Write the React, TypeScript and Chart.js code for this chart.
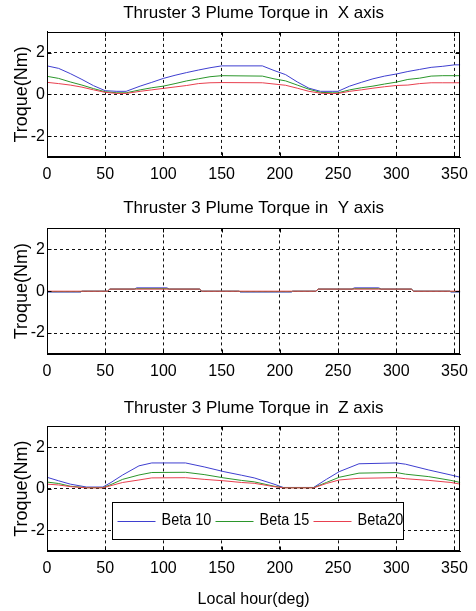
import React, { useEffect, useRef } from "react";
import { Chart, registerables } from "chart.js";

Chart.register(...registerables);

// ---------- data ----------
const xTicks = [0, 50, 100, 150, 200, 250, 300, 350];
const yTicks = [-2, 0, 2];
const seriesNames = ["Beta 10", "Beta 15", "Beta20"];
const seriesColors = ["#3f3fd0", "#2b962b", "#e8404f"];

const hourX = [0, 10, 20, 30, 40, 50, 60, 68, 80, 90, 100, 110, 120, 130, 140, 150, 185, 195, 205, 215, 225, 235, 245, 250, 260, 270, 280, 290, 300, 310, 320, 330, 340, 350, 355];
const torqueX10 = [1.37, 1.25, 1.0, 0.72, 0.42, 0.18, 0.15, 0.15, 0.4, 0.58, 0.77, 0.92, 1.05, 1.17, 1.28, 1.37, 1.37, 1.15, 0.95, 0.6, 0.3, 0.15, 0.15, 0.15, 0.4, 0.58, 0.75, 0.88, 0.98, 1.1, 1.2, 1.3, 1.35, 1.42, 1.42];
const torqueX15 = [0.87, 0.77, 0.6, 0.45, 0.28, 0.13, 0.08, 0.08, 0.22, 0.32, 0.4, 0.52, 0.65, 0.75, 0.85, 0.9, 0.88, 0.75, 0.65, 0.45, 0.25, 0.1, 0.08, 0.08, 0.22, 0.32, 0.4, 0.5, 0.59, 0.72, 0.78, 0.88, 0.9, 0.9, 0.9];
const torqueX20 = [0.58, 0.52, 0.45, 0.35, 0.22, 0.1, 0.05, 0.05, 0.15, 0.22, 0.29, 0.36, 0.43, 0.52, 0.56, 0.57, 0.56, 0.5, 0.44, 0.3, 0.15, 0.06, 0.04, 0.05, 0.15, 0.22, 0.3, 0.37, 0.43, 0.45, 0.52, 0.56, 0.56, 0.56, 0.56];

const hourY = [0, 29, 30, 52, 54, 75, 77, 103, 105, 131, 133, 165, 166, 210, 211, 231, 233, 262, 264, 285, 287, 313, 315, 346, 347, 355];
const torqueY10 = [-0.04, -0.04, 0, 0, 0.1, 0.1, 0.16, 0.16, 0.1, 0.1, 0, 0, -0.04, -0.04, 0, 0, 0.1, 0.1, 0.16, 0.16, 0.1, 0.1, 0, 0, -0.04, -0.04];
const torqueY15 = [-0.02, -0.02, 0, 0, 0.1, 0.1, 0.12, 0.12, 0.1, 0.1, 0, 0, -0.02, -0.02, 0, 0, 0.1, 0.1, 0.12, 0.12, 0.1, 0.1, 0, 0, -0.02, -0.02];
const torqueY20 = [0, 0, 0, 0, 0.1, 0.1, 0.1, 0.1, 0.1, 0.1, 0, 0, 0, 0, 0, 0, 0.1, 0.1, 0.1, 0.1, 0.1, 0.1, 0, 0, 0, 0];

const hourZ = [0, 10, 20, 34, 48, 55, 65, 79, 90, 119, 135, 152, 167, 178, 195, 203, 229, 240, 251, 268, 300, 308, 328, 347, 355];
const torqueZ10 = [0.55, 0.38, 0.22, 0.08, 0.08, 0.3, 0.66, 1.1, 1.24, 1.24, 1.05, 0.82, 0.65, 0.52, 0.22, 0.06, 0.06, 0.45, 0.82, 1.2, 1.24, 1.18, 0.9, 0.66, 0.55];
const torqueZ15 = [0.32, 0.25, 0.12, 0.05, 0.05, 0.2, 0.45, 0.66, 0.78, 0.79, 0.68, 0.52, 0.4, 0.33, 0.12, 0.05, 0.05, 0.3, 0.55, 0.75, 0.78, 0.7, 0.58, 0.4, 0.3];
const torqueZ20 = [0.22, 0.18, 0.1, 0.04, 0.04, 0.15, 0.3, 0.42, 0.52, 0.53, 0.45, 0.38, 0.3, 0.26, 0.1, 0.04, 0.04, 0.25, 0.42, 0.5, 0.53, 0.48, 0.4, 0.3, 0.22];

const titles = [
  "Thruster 3 Plume Torque in  X axis",
  "Thruster 3 Plume Torque in  Y axis",
  "Thruster 3 Plume Torque in  Z axis",
];
const yTitle = "Troque(Nm)";
const xTitle = "Local hour(deg)";

// ---------- styling ----------
const FONT = "'Liberation Sans', Arial, sans-serif";

const framePlugin = {
  id: "frame",
  afterDraw(chart: any) {
    const { ctx, chartArea, scales } = chart;
    const l = Math.round(chartArea.left) + 0.5;
    const t = Math.round(chartArea.top) + 0.5;
    const r = Math.round(chartArea.right) - 0.5;
    const b = Math.round(chartArea.bottom) - 0.5;
    ctx.save();
    ctx.setLineDash([]);
    ctx.strokeStyle = "#000";
    ctx.lineWidth = 1;
    ctx.strokeRect(l, t, r - l, b - t);
    ctx.beginPath();
    xTicks.forEach((v) => {
      const px = Math.round(scales.x.getPixelForValue(v)) + 0.5;
      ctx.moveTo(px, b);
      ctx.lineTo(px, b - 4);
      ctx.moveTo(px, t);
      ctx.lineTo(px, t + 4);
    });
    yTicks.forEach((v) => {
      const py = Math.round(scales.y.getPixelForValue(v)) + 0.5;
      ctx.moveTo(l, py);
      ctx.lineTo(l + 4, py);
      ctx.moveTo(r, py);
      ctx.lineTo(r - 4, py);
    });
    ctx.stroke();
    ctx.restore();
  },
};

const legendPlugin = {
  id: "boxLegend",
  afterDraw(chart: any) {
    const { ctx, chartArea } = chart;
    const bx = Math.round(chartArea.left + 65) + 0.5;
    const by = Math.round(chartArea.top + 76) + 0.5;
    const bw = 291;
    const bh = 37;
    ctx.save();
    ctx.setLineDash([]);
    ctx.fillStyle = "#fff";
    ctx.fillRect(bx, by, bw, bh);
    ctx.strokeStyle = "#000";
    ctx.lineWidth = 1;
    ctx.strokeRect(bx, by, bw, bh);
    const cy = by + 18;
    const lineStarts = [5, 103, 201];
    seriesNames.forEach((name, i) => {
      const lx = bx + lineStarts[i];
      ctx.strokeStyle = seriesColors[i];
      ctx.beginPath();
      ctx.moveTo(lx, Math.round(cy) + 0.5);
      ctx.lineTo(lx + 38, Math.round(cy) + 0.5);
      ctx.stroke();
      ctx.save();
      ctx.translate(lx + 44, cy);
      ctx.scale(0.85, 1);
      ctx.fillStyle = "#000";
      ctx.font = `17px ${FONT}`;
      ctx.textBaseline = "middle";
      ctx.textAlign = "left";
      ctx.fillText(name, 0, 0);
      ctx.restore();
    });
    ctx.restore();
  },
};

type PanelProps = {
  top: number;
  height: number;
  title: string;
  titlePad: { top: number; bottom: number };
  xAxisHeight: number;
  hours: number[];
  series: number[][];
  showXTitle: boolean;
  showLegend: boolean;
};

function Panel(p: PanelProps) {
  const ref = useRef<HTMLCanvasElement | null>(null);
  useEffect(() => {
    if (!ref.current) return;
    const chart = new Chart(ref.current, {
      type: "line",
      data: {
        datasets: p.series.map((s, i) => ({
          label: seriesNames[i],
          data: p.hours.map((h, j) => ({ x: h, y: s[j] })),
          borderColor: seriesColors[i],
          backgroundColor: seriesColors[i],
          borderWidth: 1,
          pointRadius: 0,
          tension: 0,
          fill: false,
          order: 3 - i,
        })),
      },
      options: {
        animation: false,
        responsive: false,
        events: [],
        layout: { padding: { left: 11, right: 11, top: 0, bottom: 0 } },
        plugins: {
          legend: { display: false },
          tooltip: { enabled: false },
          title: {
            display: true,
            text: p.title,
            fullSize: false,
            color: "#000",
            font: { family: FONT, size: 17, weight: "normal" },
            padding: p.titlePad,
          },
        },
        scales: {
          x: {
            type: "linear",
            min: 0,
            max: 355,
            afterBuildTicks: (s: any) => {
              s.ticks = xTicks.map((v) => ({ value: v }));
            },
            afterFit: (s: any) => {
              s.height = p.xAxisHeight;
            },
            grid: { color: "#111", lineWidth: 1, drawTicks: false },
            border: { display: true, color: "#000", dash: [3, 3] },
            ticks: {
              padding: 8,
              color: "#000",
              autoSkip: false,
              maxRotation: 0,
              font: { family: FONT, size: 16 },
              callback: (v: any) => String(v),
            },
            title: {
              display: p.showXTitle,
              text: xTitle,
              color: "#000",
              font: { family: FONT, size: 16 },
              padding: { top: 0, bottom: 2 },
            },
          },
          y: {
            type: "linear",
            min: -3,
            max: 3,
            afterBuildTicks: (s: any) => {
              s.ticks = yTicks.map((v) => ({ value: v }));
            },
            afterFit: (s: any) => {
              s.width = 36;
            },
            grid: { color: "#111", lineWidth: 1, drawTicks: false },
            border: { display: true, color: "#000", dash: [3, 3] },
            ticks: {
              padding: 2,
              color: "#000",
              font: { family: FONT, size: 16 },
              callback: (v: any) => String(v),
            },
            title: {
              display: true,
              text: yTitle,
              color: "#000",
              font: { family: FONT, size: 18 },
              padding: 0,
            },
          },
        },
      } as any,
      plugins: p.showLegend ? [framePlugin, legendPlugin] : [framePlugin],
    });
    return () => chart.destroy();
  }, []);
  return (
    <canvas
      ref={ref}
      width={476}
      height={p.height}
      style={{ position: "absolute", left: 0, top: p.top, width: 476, height: p.height, display: "block" }}
    />
  );
}

export default function App() {
  return (
    <div style={{ position: "fixed", left: 0, top: 0, width: 476, height: 611, background: "#fff" }}>
      <Panel
        top={0}
        height={194}
        title={titles[0]}
        titlePad={{ top: 3, bottom: 8.5 }}
        xAxisHeight={37}
        hours={hourX}
        series={[torqueX10, torqueX15, torqueX20]}
        showXTitle={false}
        showLegend={false}
      />
      <Panel
        top={194}
        height={194}
        title={titles[1]}
        titlePad={{ top: 4, bottom: 10 }}
        xAxisHeight={34}
        hours={hourY}
        series={[torqueY10, torqueY15, torqueY20]}
        showXTitle={false}
        showLegend={false}
      />
      <Panel
        top={388}
        height={223}
        title={titles[2]}
        titlePad={{ top: 10, bottom: 8 }}
        xAxisHeight={60}
        hours={hourZ}
        series={[torqueZ10, torqueZ15, torqueZ20]}
        showXTitle={true}
        showLegend={true}
      />
    </div>
  );
}
